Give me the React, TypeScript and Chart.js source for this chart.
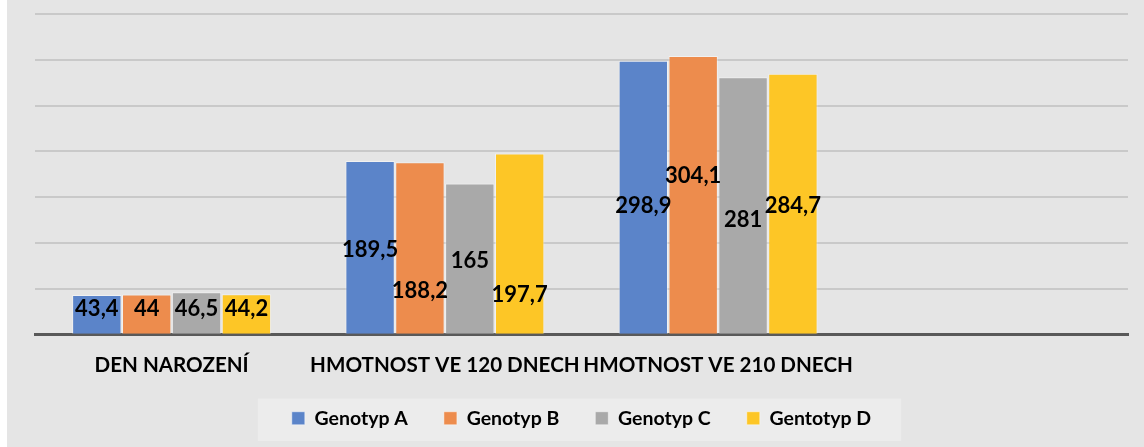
import React, { useEffect, useRef } from "react";
import { Chart, registerables } from "chart.js";

Chart.register(...registerables);

const categories = ["DEN NAROZENÍ", "HMOTNOST VE 120 DNECH", "HMOTNOST VE 210 DNECH", ""];
const seriesNames = ["Genotyp A", "Genotyp B", "Genotyp C", "Gentotyp D"];
const genotypA = [43.4, 189.5, 298.9, null];
const genotypB = [44, 188.2, 304.1, null];
const genotypC = [46.5, 165, 281, null];
const genotypD = [44.2, 197.7, 284.7, null];
// value at which each data label is centred (labels were moved by hand in the original)
const labelAtA = [27.7, 93, 141, null];
const labelAtB = [27.7, 48, 173, null];
const labelAtC = [27.7, 81, 125, null];
const labelAtD = [27.7, 44, 141, null];
const yMax = 350;
const yStep = 50;

const colors = ["#5b84c9", "#ed8c4d", "#a9a9a9", "#fdc626"];
const FONT = "Lato, 'Open Sans', sans-serif";

const fmt = (v: number) => String(v).replace(".", ",");

export default function App() {
  const ref = useRef<HTMLCanvasElement | null>(null);
  useEffect(() => {
    if (!ref.current) return;
    const values = [genotypA, genotypB, genotypC, genotypD];
    const labelsAt = [labelAtA, labelAtB, labelAtC, labelAtD];

    const labelPlugin = {
      id: "dataLabels",
      afterDatasetsDraw(chart: any) {
        const ctx = chart.ctx;
        const ys = chart.scales.y;
        ctx.save();
        ctx.font = `bold 22px ${FONT}`;
        ctx.fillStyle = "#000";
        ctx.textAlign = "center";
        ctx.textBaseline = "middle";
        chart.data.datasets.forEach((ds: any, di: number) => {
          const meta = chart.getDatasetMeta(di);
          meta.data.forEach((el: any, i: number) => {
            const v = ds.data[i];
            if (v == null) return;
            const y = ys.getPixelForValue(labelsAt[di][i] as number);
            ctx.fillText(fmt(v), el.x, y);
          });
        });
        ctx.restore();
      },
    };

    const legendBg = {
      id: "legendBg",
      beforeDraw(chart: any) {
        const lg = chart.legend;
        if (!lg || !lg.legendHitBoxes || !lg.legendHitBoxes.length) return;
        const boxes = lg.legendHitBoxes;
        const l = Math.min(...boxes.map((b: any) => b.left));
        const r = Math.max(...boxes.map((b: any) => b.left + b.width));
        const t = Math.min(...boxes.map((b: any) => b.top));
        const bt = Math.max(...boxes.map((b: any) => b.top + b.height));
        const ctx = chart.ctx;
        ctx.save();
        ctx.fillStyle = "#ececec";
        ctx.fillRect(l - 34, t - 10, r - l + 64, bt - t + 23);
        ctx.restore();
      },
    };

    const chart = new Chart(ref.current, {
      type: "bar",
      data: {
        labels: categories,
        datasets: seriesNames.map((name, i) => ({
          label: name,
          data: values[i],
          backgroundColor: colors[i],
          borderColor: "rgba(255,255,255,0.45)",
          borderWidth: 1,
          categoryPercentage: 0.73,
          barPercentage: 0.99,
        })),
      },
      options: {
        animation: false,
        responsive: true,
        maintainAspectRatio: false,
        layout: { padding: { left: 28, right: 16, top: 14, bottom: 9 } },
        plugins: {
          legend: {
            position: "bottom",
            labels: {
              boxWidth: 13,
              boxHeight: 13,
              padding: 36,
              color: "#000",
              font: { family: FONT, size: 19.5, weight: "bold" },
            },
          },
          tooltip: { enabled: false },
        },
        scales: {
          x: {
            grid: { display: false, drawTicks: false },
            border: { display: true, color: "#595959", width: 3 },
            afterFit(scale: any) {
              scale.height -= 23;
            },
            ticks: {
              color: "#000",
              maxRotation: 0,
              autoSkip: false,
              padding: 18,
              font: { family: FONT, size: 20.6, weight: "bold" },
            },
          },
          y: {
            min: 0,
            max: yMax,
            ticks: { display: false, stepSize: yStep },
            grid: { color: "#c9c9c9", lineWidth: 2, drawTicks: false },
            border: { display: false },
          },
        },
      },
      plugins: [legendBg, labelPlugin],
    } as any);
    return () => chart.destroy();
  }, []);

  return (
    <div
      style={{
        position: "fixed",
        left: 7,
        top: 0,
        width: 1137,
        height: 447,
        background: "#e5e5e5",
      }}
    >
      <canvas ref={ref} />
    </div>
  );
}
